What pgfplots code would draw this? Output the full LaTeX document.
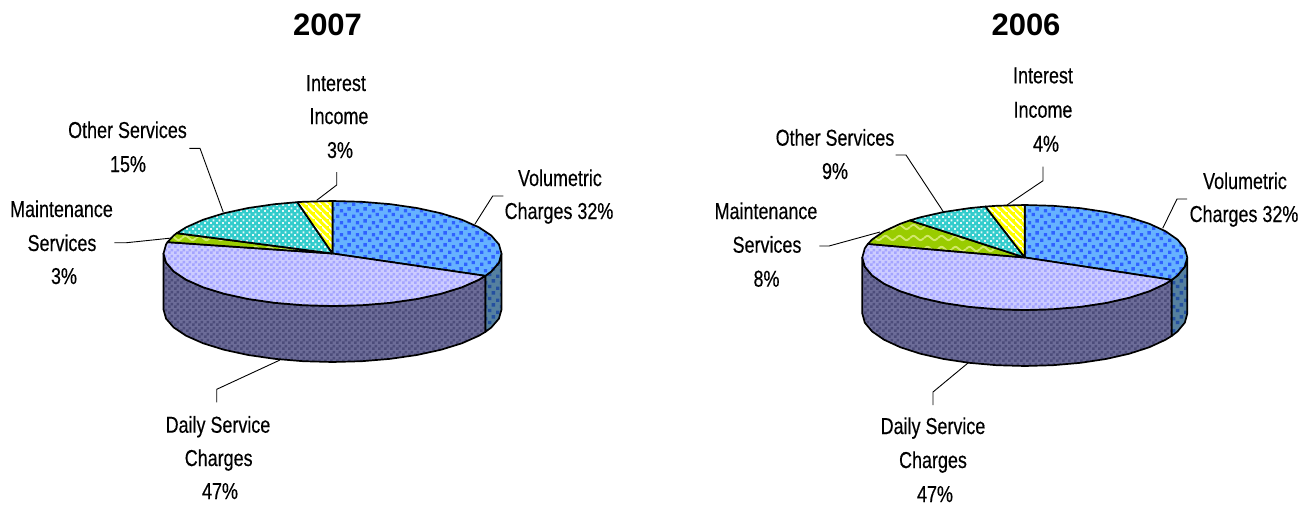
\documentclass[border=0pt]{standalone}
\usepackage{fontspec}
\setmainfont{Liberation Sans}
\newfontfamily\lblfont[FakeStretch=0.78,FakeBold=0.35]{Liberation Sans}
\usepackage{pgfplots}
\pgfplotsset{compat=1.18}
\usepackage{pgfplotstable}
\usetikzlibrary{patterns}

\definecolor{volbase}{HTML}{66B2FF}
\definecolor{volspot}{HTML}{2F62FF}
\definecolor{dayA}{HTML}{CCCCFF}
\definecolor{dayB}{HTML}{A4A4FF}
\definecolor{wallA}{HTML}{6C6C98}
\definecolor{wallB}{HTML}{4C4C7A}
\definecolor{vwallA}{HTML}{55809F}
\definecolor{vwallB}{HTML}{24509F}
\definecolor{teal}{HTML}{33CCCC}
\definecolor{tealdot}{HTML}{E4F8F8}
\definecolor{grn}{HTML}{99CC00}
\definecolor{grnw}{HTML}{D2E86A}
\definecolor{yel}{HTML}{FFFF00}

\pgfdeclarepatternformonly{bluespots}{\pgfqpoint{0pt}{0pt}}{\pgfqpoint{16pt}{12pt}}{\pgfqpoint{16pt}{12pt}}{
  \pgfpathrectangle{\pgfqpoint{0pt}{0pt}}{\pgfqpoint{3.6pt}{3.6pt}}
  \pgfpathrectangle{\pgfqpoint{8pt}{2pt}}{\pgfqpoint{3.6pt}{3.6pt}}
  \pgfpathrectangle{\pgfqpoint{4pt}{6pt}}{\pgfqpoint{3.6pt}{3.6pt}}
  \pgfpathrectangle{\pgfqpoint{12pt}{8pt}}{\pgfqpoint{3.6pt}{3.6pt}}
  \pgfusepath{fill}}
\pgfdeclarepatternformonly{checker}{\pgfqpoint{0pt}{0pt}}{\pgfqpoint{6pt}{6pt}}{\pgfqpoint{6pt}{6pt}}{
  \pgfpathrectangle{\pgfqpoint{0pt}{0pt}}{\pgfqpoint{3pt}{3pt}}
  \pgfpathrectangle{\pgfqpoint{3pt}{3pt}}{\pgfqpoint{3pt}{3pt}}
  \pgfusepath{fill}}
\pgfdeclarepatternformonly{tealdots}{\pgfqpoint{0pt}{0pt}}{\pgfqpoint{6pt}{6pt}}{\pgfqpoint{6pt}{6pt}}{
  \pgfpathrectangle{\pgfqpoint{0pt}{0pt}}{\pgfqpoint{2.2pt}{2.2pt}}
  \pgfpathrectangle{\pgfqpoint{3pt}{3pt}}{\pgfqpoint{2.2pt}{2.2pt}}
  \pgfusepath{fill}}
\pgfdeclarepatternformonly{wavy}{\pgfqpoint{0pt}{-1pt}}{\pgfqpoint{14pt}{11pt}}{\pgfqpoint{14pt}{11pt}}{
  \pgfsetlinewidth{1.9pt}
  \pgfpathmoveto{\pgfqpoint{0pt}{4pt}}
  \pgfpathcurveto{\pgfqpoint{3.5pt}{7pt}}{\pgfqpoint{3.5pt}{7pt}}{\pgfqpoint{7pt}{4pt}}
  \pgfpathcurveto{\pgfqpoint{10.5pt}{1pt}}{\pgfqpoint{10.5pt}{1pt}}{\pgfqpoint{14pt}{4pt}}
  \pgfusepath{stroke}}
\pgfdeclarepatternformonly{ystripes}{\pgfqpoint{0pt}{0pt}}{\pgfqpoint{7pt}{7pt}}{\pgfqpoint{7pt}{7pt}}{
  \pgfsetlinewidth{1.8pt}
  \pgfpathmoveto{\pgfqpoint{-1pt}{8pt}}
  \pgfpathlineto{\pgfqpoint{8pt}{-1pt}}
  \pgfusepath{stroke}}

% slices in unit-circle coordinates, scaled by each pie's radii
\pgfplotstableread{
x y
0 0
0 1
.1736 .9848
.3420 .9397
.5 .8660
.6428 .7660
.7660 .6428
.8660 .5
.9397 .3420
.9848 .1736
1 0
.9848 -.1736
.9397 -.3420
.9048 -.4258
0 0
}\volslice
\pgfplotstableread{
x y
0 0
.9048 -.4258
.8660 -.5
.7660 -.6428
.6428 -.7660
.5 -.8660
.3420 -.9397
.1736 -.9848
0 -1
-.1736 -.9848
-.3420 -.9397
-.5 -.8660
-.6428 -.7660
-.7660 -.6428
-.8660 -.5
-.9397 -.3420
-.9848 -.1736
-1 0
-.9848 .1736
-.9763 .2164
0 0
}\dayA
\pgfplotstableread{
x y
0 0
.9048 -.4258
.8660 -.5
.7660 -.6428
.6428 -.7660
.5 -.8660
.3420 -.9397
.1736 -.9848
0 -1
-.1736 -.9848
-.3420 -.9397
-.5 -.8660
-.6428 -.7660
-.7660 -.6428
-.8660 -.5
-.9397 -.3420
-.9848 -.1736
-1 0
-.9848 .1736
-.9659 .2588
0 0
}\dayB
\pgfplotstableread{
x y
0 0
-.9763 .2164
-.9397 .3420
-.9219 .3875
0 0
}\maintA
\pgfplotstableread{
x y
0 0
-.9219 .3875
-.8660 .5
-.7660 .6428
-.6428 .7660
-.5 .8660
-.3420 .9397
-.2079 .9781
0 0
}\otherA
\pgfplotstableread{
x y
0 0
-.2079 .9781
-.1736 .9848
0 1
0 0
}\intA
\pgfplotstableread{
x y
0 0
-.9659 .2588
-.9397 .3420
-.8660 .5
-.7660 .6428
-.7071 .7071
0 0
}\maintB
\pgfplotstableread{
x y
0 0
-.7071 .7071
-.6428 .7660
-.5 .8660
-.3420 .9397
-.2419 .9703
0 0
}\otherB
\pgfplotstableread{
x y
0 0
-.2419 .9703
-.1736 .9848
0 1
0 0
}\intB
\pgfplotstableread{
x y
1 0
.9848 -.1736
.9397 -.3420
.9048 -.4258
.9048 -1.4925
.9397 -1.4087
.9848 -1.2403
1 -1.0667
1 0
}\vwall
\pgfplotstableread{
x y
.9048 -.4258
.8660 -.5
.7660 -.6428
.6428 -.7660
.5 -.8660
.3420 -.9397
.1736 -.9848
0 -1
-.1736 -.9848
-.3420 -.9397
-.5 -.8660
-.6428 -.7660
-.7660 -.6428
-.8660 -.5
-.9397 -.3420
-.9848 -.1736
-1 0
-1 -1.0667
-.9848 -1.2403
-.9397 -1.4087
-.8660 -1.5667
-.7660 -1.7095
-.6428 -1.8327
-.5 -1.9327
-.3420 -2.0064
-.1736 -2.0515
0 -2.0667
.1736 -2.0515
.3420 -2.0064
.5 -1.9327
.6428 -1.8327
.7660 -1.7095
.8660 -1.5667
.9048 -1.4925
.9048 -.4258
}\dwall

% #1 table, #2 cx, #3 rx, #4 cy, #5 base colour, #6 pattern, #7 pattern colour
\newcommand{\piece}[7]{%
  \addplot[draw=none,fill=#5] table[x expr=#2+#3*\thisrow{x}, y expr=#4-52.5*\thisrow{y}] {#1};
  \addplot[draw=black,line width=1.7pt,line join=round,pattern=#6,pattern color=#7] table[x expr=#2+#3*\thisrow{x}, y expr=#4-52.5*\thisrow{y}] {#1};
}
\newcommand{\lbl}[3]{\node[anchor=base,inner sep=0pt,font=\lblfont\fontsize{23}{27}\selectfont] at (axis cs:#1,#2) {#3};}
\newcommand{\ttl}[3]{\node[anchor=base,inner sep=0pt,font=\bfseries\fontsize{31}{37}\selectfont] at (axis cs:#1,#2) {#3};}

\begin{document}
\begin{tikzpicture}
\begin{axis}[
  scale only axis, width=1311pt, height=506pt,
  xmin=0, xmax=1311, ymin=0, ymax=506, y dir=reverse,
  axis lines=none, clip=false, enlargelimits=false]
\path (axis cs:0,0) rectangle (axis cs:1311,506);

% 2007
\piece{\dwall}{332.5}{169}{253.5}{wallA}{checker}{wallB}
\piece{\vwall}{332.5}{169}{253.5}{vwallA}{bluespots}{vwallB}
\piece{\volslice}{332.5}{169}{253.5}{volbase}{bluespots}{volspot}
\piece{\dayA}{332.5}{169}{253.5}{dayA}{checker}{dayB}
\piece{\maintA}{332.5}{169}{253.5}{grn}{wavy}{grnw}
\piece{\otherA}{332.5}{169}{253.5}{teal}{tealdots}{tealdot}
\piece{\intA}{332.5}{169}{253.5}{yel}{ystripes}{white}

% 2006
\piece{\dwall}{1024.8}{162.5}{257.5}{wallA}{checker}{wallB}
\piece{\vwall}{1024.8}{162.5}{257.5}{vwallA}{bluespots}{vwallB}
\piece{\volslice}{1024.8}{162.5}{257.5}{volbase}{bluespots}{volspot}
\piece{\dayB}{1024.8}{162.5}{257.5}{dayA}{checker}{dayB}
\piece{\maintB}{1024.8}{162.5}{257.5}{grn}{wavy}{grnw}
\piece{\otherB}{1024.8}{162.5}{257.5}{teal}{tealdots}{tealdot}
\piece{\intB}{1024.8}{162.5}{257.5}{yel}{ystripes}{white}

% leader lines 2007
\addplot[black,line width=0.9pt] coordinates {(336.7,172) (336.7,185) (316.7,200.3)};
\addplot[black,line width=0.9pt] coordinates {(189.3,148.3) (200,148.3) (223.3,212.3)};
\addplot[black,line width=0.9pt] coordinates {(114.3,242.7) (126.7,242.7) (171.7,238)};
\addplot[black,line width=0.9pt] coordinates {(503.3,196) (492.7,196) (475,224)};
\addplot[black,line width=0.9pt] coordinates {(216.7,402.3) (216.7,389.3) (280,360)};
% leader lines 2006
\addplot[black,line width=0.9pt] coordinates {(1043,166.7) (1043,180.7) (1007,205)};
\addplot[black,line width=0.9pt] coordinates {(895.5,155) (906,155) (943.3,211.7)};
\addplot[black,line width=0.9pt] coordinates {(819.3,246) (829,246) (880,232)};
\addplot[black,line width=0.9pt] coordinates {(1187,199) (1177,199) (1162.7,228.3)};
\addplot[black,line width=0.9pt] coordinates {(933,405) (933,392) (968,363)};

% titles
\ttl{327.5}{35}{2007}
\ttl{1026}{35}{2006}

% labels 2007
\lbl{336}{91}{Interest}
\lbl{339}{124}{Income}
\lbl{340}{158}{3\%}
\lbl{127.5}{138}{Other Services}
\lbl{128}{172}{15\%}
\lbl{61.5}{217}{Maintenance}
\lbl{62}{251}{Services}
\lbl{64}{284}{3\%}
\lbl{560}{186}{Volumetric}
\lbl{559}{219}{Charges 32\%}
\lbl{218}{432.7}{Daily Service}
\lbl{218.7}{466}{Charges}
\lbl{220}{499}{47\%}

% labels 2006
\lbl{1043}{83.3}{Interest}
\lbl{1043}{117.7}{Income}
\lbl{1046}{151.7}{4\%}
\lbl{835}{145.7}{Other Services}
\lbl{835}{179}{9\%}
\lbl{766}{219}{Maintenance}
\lbl{767}{252.7}{Services}
\lbl{766.5}{286.7}{8\%}
\lbl{1245}{189}{Volumetric}
\lbl{1244}{222}{Charges 32\%}
\lbl{933}{434}{Daily Service}
\lbl{933}{468}{Charges}
\lbl{935}{502}{47\%}
\end{axis}
\end{tikzpicture}
\end{document}
